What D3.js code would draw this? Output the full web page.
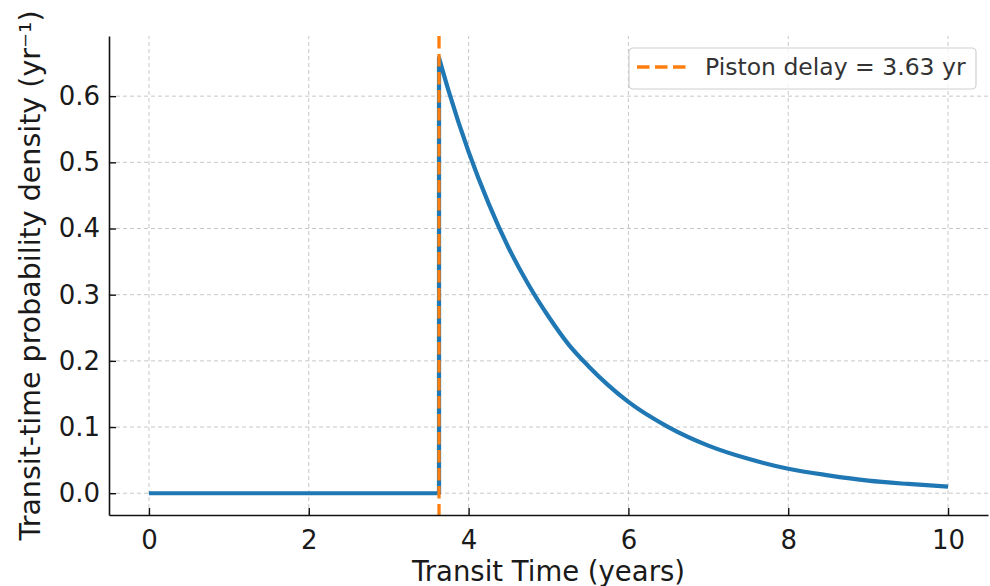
<!DOCTYPE html>
<html>
<head>
<meta charset="utf-8">
<script src="https://cdn.jsdelivr.net/npm/d3@7"></script>
<style>
  body { margin: 0; background: #fff; }
  svg { font-family: "DejaVu Sans", sans-serif; }
</style>
</head>
<body>
<svg id="chart"></svg>
<script>
// piston delay (years)
const pistonDelay = 3.63;

// zero part before the delay
const flatTimes = [0, 3.63];
const flatValues = [0, 0];

// decaying part after the delay
const decayTimes = [3.63, 3.75, 4.0, 4.25, 4.5, 4.75, 5.0, 5.25, 5.5, 5.75, 6.0, 6.5, 7.0, 7.5, 8.0, 8.5, 9.0, 9.5, 10.0];
const decayValues = [0.658, 0.608, 0.516, 0.438, 0.371, 0.315, 0.267, 0.225, 0.192, 0.163, 0.138, 0.100, 0.072, 0.052, 0.037, 0.027, 0.019, 0.014, 0.010];

const xTicks = [0, 2, 4, 6, 8, 10];
const yTicks = [0, 0.1, 0.2, 0.3, 0.4, 0.5, 0.6];

const width = 990;
const height = 586;
const margin = { left: 109, right: 2, top: 36, bottom: 71 };

const svg = d3.select("#chart").attr("width", width).attr("height", height);

// scales (matplotlib style 5% padding)
const x = d3.scaleLinear().domain([-0.5, 10.5]).range([margin.left, width - margin.right]);
const y = d3.scaleLinear().domain([-0.0329, 0.6909]).range([height - margin.bottom, margin.top]);

// grid
const grid = svg.append("g").attr("stroke", "#c8c8c8").attr("stroke-width", 1).attr("stroke-dasharray", "4,3");
grid.selectAll(".gx").data(xTicks).enter().append("line")
  .attr("x1", d => x(d)).attr("x2", d => x(d))
  .attr("y1", y.range()[0]).attr("y2", y.range()[1]);
grid.selectAll(".gy").data(yTicks).enter().append("line")
  .attr("x1", x.range()[0]).attr("x2", x.range()[1])
  .attr("y1", d => y(d)).attr("y2", d => y(d));

// density curve: linear step then smooth decay
const lineLin = d3.line().x(d => x(d[0])).y(d => y(d[1]));
const lineMono = d3.line().x(d => x(d[0])).y(d => y(d[1])).curve(d3.curveMonotoneX);
const stepPts = flatTimes.map((t, i) => [t, flatValues[i]]).concat([[decayTimes[0], decayValues[0]]]);
const decayPts = decayTimes.map((t, i) => [t, decayValues[i]]);
const pathD = lineLin(stepPts) + lineMono(decayPts).replace(/^M/, "L");

svg.append("path")
  .attr("d", pathD)
  .attr("fill", "none")
  .attr("stroke", "#1f77b4")
  .attr("stroke-width", 4.2)
  .attr("stroke-linejoin", "round");

// piston delay line
svg.append("line")
  .attr("x1", x(pistonDelay)).attr("x2", x(pistonDelay))
  .attr("y1", y.range()[1]).attr("y2", y.range()[0])
  .attr("stroke", "#ff7f0e")
  .attr("stroke-width", 3.3)
  .attr("stroke-dasharray", "12.5,5.5");

// axes with inward ticks
const xAxis = svg.append("g")
  .attr("transform", `translate(0,${y.range()[0]})`)
  .call(d3.axisBottom(x).tickValues(xTicks).tickSizeInner(-7).tickSizeOuter(0).tickPadding(16).tickFormat(d3.format("d")));
const yAxis = svg.append("g")
  .attr("transform", `translate(${x.range()[0]},0)`)
  .call(d3.axisLeft(y).tickValues(yTicks).tickSizeInner(-7).tickSizeOuter(0).tickPadding(9).tickFormat(d3.format(".1f")));

[xAxis, yAxis].forEach(a => {
  a.select(".domain").attr("stroke", "#111").attr("stroke-width", 1.6);
  a.selectAll(".tick line").attr("stroke", "#111").attr("stroke-width", 1.4);
  a.selectAll(".tick text").attr("font-size", 26).attr("fill", "#1a1a1a").attr("font-family", "DejaVu Sans");
});

// axis titles
svg.append("text")
  .attr("x", (x.range()[0] + x.range()[1]) / 2)
  .attr("y", 581)
  .attr("text-anchor", "middle")
  .attr("font-size", 27.5)
  .attr("fill", "#1a1a1a")
  .text("Transit Time (years)");

svg.append("text")
  .attr("transform", `translate(40,${(y.range()[0] + y.range()[1]) / 2}) rotate(-90)`)
  .attr("text-anchor", "middle")
  .attr("font-size", 28.5)
  .attr("fill", "#1a1a1a")
  .text("Transit-time probability density (yr\u207B\u00B9)");

// legend
const legend = svg.append("g").attr("transform", "translate(629,48)");
legend.append("rect")
  .attr("width", 347).attr("height", 41).attr("rx", 4)
  .attr("fill", "#fff").attr("fill-opacity", 0.8)
  .attr("stroke", "#d0d0d0").attr("stroke-width", 1.2);
legend.append("line")
  .attr("x1", 8).attr("x2", 58).attr("y1", 19).attr("y2", 19)
  .attr("stroke", "#ff7f0e").attr("stroke-width", 3.3).attr("stroke-dasharray", "12.5,5.5");
legend.append("text")
  .attr("x", 76).attr("y", 19).attr("dy", "0.36em")
  .attr("font-size", 23.5).attr("fill", "#333")
  .text(`Piston delay = ${pistonDelay.toFixed(2)} yr`);
</script>
</body>
</html>
